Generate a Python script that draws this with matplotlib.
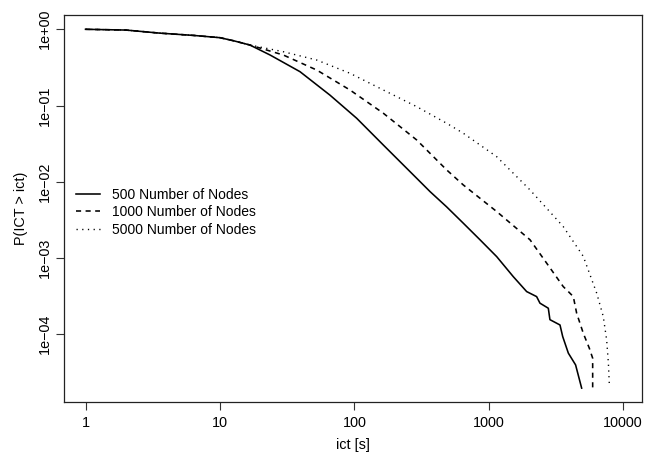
import matplotlib
matplotlib.use("Agg")
import matplotlib.pyplot as plt

plt.rcParams['font.family'] = ['Liberation Sans', 'DejaVu Sans']

# inter-contact time CCDF (x in seconds, y = P(ICT > ict))
ict_500 = [1, 2, 3.55, 6.31, 10, 12.6, 16.7, 23.6, 39.4, 65.8, 104, 164, 291,
           366, 486, 646, 861, 1146, 1521, 1914, 2270, 2404, 2773, 2851, 3388,
           3548, 3908, 4426, 4909]
p_500 = [1, 0.977, 0.891, 0.832, 0.776, 0.708, 0.622, 0.46, 0.278, 0.137,
         0.0681, 0.0304, 0.0111, 0.00741, 0.00468, 0.00286, 0.00173, 0.00104,
         0.000569, 0.000362, 0.000311, 0.000255, 0.000219, 0.000155, 0.000132,
         9.31e-05, 5.64e-05, 3.95e-05, 1.96e-05]

ict_1000 = [1, 2, 3.55, 6.31, 10, 12.6, 16.7, 29.6, 52.5, 92.7, 164, 291, 486,
            646, 1146, 2028, 2698, 3581, 3908, 4256, 4508, 5047, 5598, 5929, 5929]
p_1000 = [1, 0.977, 0.891, 0.832, 0.776, 0.708, 0.622, 0.46, 0.292, 0.16,
          0.0794, 0.0353, 0.0143, 0.00908, 0.00406, 0.00173, 0.000853,
          0.000421, 0.000362, 0.000311, 0.000188, 0.000103, 6.55e-05, 4.84e-05,
          1.96e-05]

ict_5000 = [1, 2, 3.55, 6.31, 10, 12.6, 16.7, 29.6, 52.5, 92.7, 164, 291, 486,
            646, 1146, 2028, 3581, 5047, 6353, 7112, 7534, 7762, 7889]
p_5000 = [1, 0.977, 0.891, 0.832, 0.776, 0.708, 0.622, 0.508, 0.395, 0.265,
          0.16, 0.0966, 0.0585, 0.0433, 0.0213, 0.0078, 0.00258, 0.00105,
          0.000345, 0.00017, 8.41e-05, 4.17e-05, 2.16e-05]

labels = ['500 Number of Nodes', '1000 Number of Nodes', '5000 Number of Nodes']
x_ticks = [1, 10, 100, 1000, 10000]
x_tick_labels = ['1', '10', '100', '1000', '10000']
y_ticks = [1, 0.1, 0.01, 0.001, 0.0001]
y_tick_labels = ['1e+00', '1e\u221201', '1e\u221202', '1e\u221203', '1e\u221204']

fig = plt.figure(figsize=(6.46, 4.53), dpi=100)
ax = fig.add_axes([64/646, 1 - 402/453, 578/646, 387/453])

ax.plot(ict_500, p_500, color='black', lw=1.15, label=labels[0])
ax.plot(ict_1000, p_1000, color='black', lw=1.15, dashes=(3.2, 2.8), label=labels[1])
ax.plot(ict_5000, p_5000, color='black', lw=1.0, dashes=(0.9, 3.2), label=labels[2])

ax.set_xscale('log')
ax.set_yscale('log')
ax.set_xlim(10**-0.16, 10**4.14)
ax.set_ylim(10**-4.89, 10**0.1875)

ax.set_xticks(x_ticks)
ax.set_xticklabels(x_tick_labels)
ax.set_yticks(y_ticks)
ax.set_yticklabels(y_tick_labels, rotation=90, va='center')
ax.minorticks_off()
ax.tick_params(axis='both', length=6, width=0.8, labelsize=10.4, color='#333333')
ax.tick_params(axis='x', pad=4)
ax.tick_params(axis='y', pad=3)

for s in ax.spines.values():
    s.set_linewidth(0.9)
    s.set_color('#222222')

ax.set_xlabel('ict [s]', fontsize=10.4, labelpad=6)
ax.set_ylabel('P(ICT > ict)', fontsize=10.4, labelpad=7)

ax.legend(loc='upper left', bbox_to_anchor=(0.0208, 0.554), frameon=False,
          fontsize=10, handlelength=1.73, handletextpad=0.86, labelspacing=0.27,
          borderpad=0, borderaxespad=0)

fig.savefig('out.png', dpi=100)
